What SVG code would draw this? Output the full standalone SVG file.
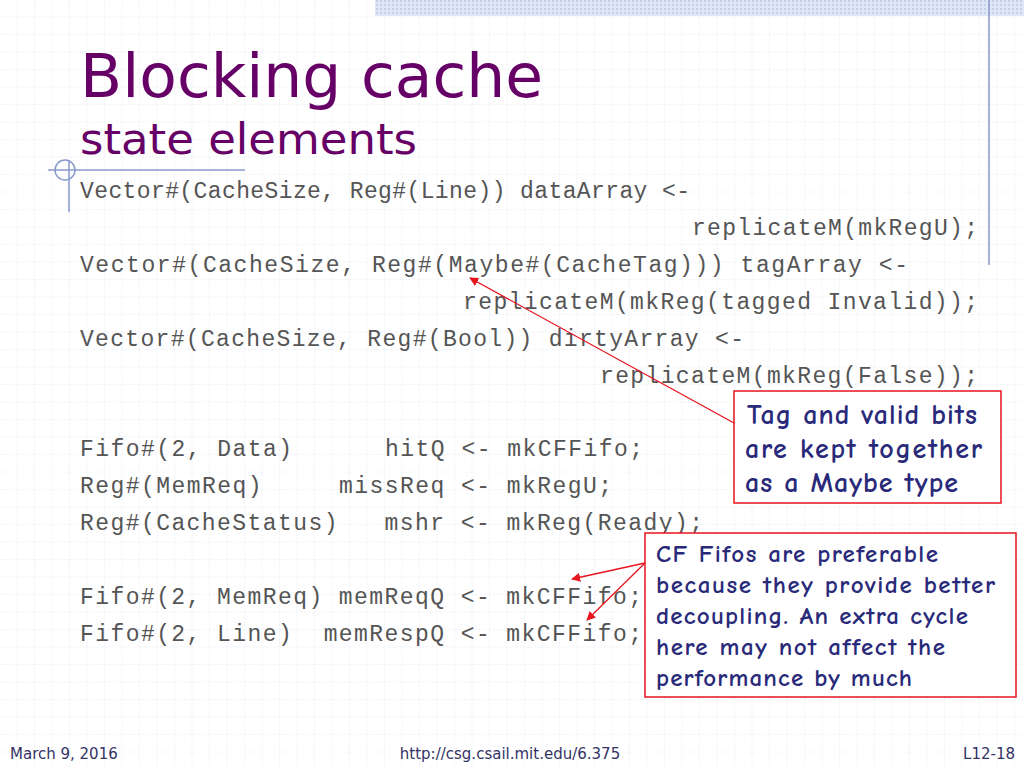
<svg xmlns="http://www.w3.org/2000/svg" width="1024" height="768" viewBox="0 0 1024 768">
<defs>
<pattern id="grid" width="17.5" height="17.5" patternUnits="userSpaceOnUse">
<path d="M17.5 0V17.5M0 17.5H17.5" fill="none" stroke="#dde3ee" stroke-width="1" stroke-dasharray="1.5,1.5"/>
</pattern>
<pattern id="dots" width="4" height="4" patternUnits="userSpaceOnUse">
<rect width="4" height="4" fill="#dfe6f5"/><rect width="2" height="2" fill="#c5d0ea"/>
</pattern>
<marker id="ah" viewBox="0 0 10 10" refX="9" refY="5" markerWidth="7" markerHeight="7" orient="auto"><path d="M0 0L10 5L0 10z" fill="#e8141e"/></marker>
<style>
.code{font-family:"Liberation Mono","Courier New",monospace;font-size:23px;fill:#555}
.note{font-family:"Comic Neue","DejaVu Sans",sans-serif;font-size:28px;font-weight:bold;fill:#2a2a7a}
.note2{font-family:"Comic Neue","DejaVu Sans",sans-serif;font-size:25px;font-weight:bold;fill:#2a2a7a}
.foot{font-family:"DejaVu Sans",sans-serif;font-size:15px;fill:#333366}
.box{fill:#fff;stroke:#e8141e;stroke-width:1.5}
.conn{stroke:#e8141e;stroke-width:1.3;fill:none}
</style>
</defs>
<rect width="1024" height="768" fill="#fff"/>
<rect width="1024" height="768" fill="url(#grid)"/>
<rect x="375" y="0" width="649" height="16" fill="url(#dots)"/>
<line x1="989" y1="0" x2="989" y2="265" stroke="#8899cc" stroke-width="1.5"/>
<line x1="48" y1="170" x2="245" y2="170" stroke="#8899cc" stroke-width="1.5"/>
<line x1="69" y1="160" x2="69" y2="212" stroke="#8899cc" stroke-width="1.5"/>
<circle cx="65" cy="170" r="10" fill="none" stroke="#8899cc" stroke-width="1.5"/>
<text x="80" y="97" font-family="DejaVu Sans,sans-serif" font-size="60" fill="#660066" textLength="463" lengthAdjust="spacingAndGlyphs">Blocking cache</text>
<text x="80" y="154" font-family="DejaVu Sans,sans-serif" font-size="43" fill="#660066" textLength="337" lengthAdjust="spacingAndGlyphs">state elements</text>
<g id="code">
<text class="code" x="80" y="198" textLength="610">Vector#(CacheSize, Reg#(Line)) dataArray &lt;-</text>
<text class="code" x="692" y="235" textLength="286">replicateM(mkRegU);</text>
<text class="code" x="80" y="272" textLength="828">Vector#(CacheSize, Reg#(Maybe#(CacheTag))) tagArray &lt;-</text>
<text class="code" x="463" y="309" textLength="515">replicateM(mkReg(tagged Invalid));</text>
<text class="code" x="80" y="346" textLength="664">Vector#(CacheSize, Reg#(Bool)) dirtyArray &lt;-</text>
<text class="code" x="600" y="383" textLength="378">replicateM(mkReg(False));</text>
<text class="code" x="80" y="456" xml:space="preserve" textLength="563">Fifo#(2, Data)      hitQ &lt;- mkCFFifo;</text>
<text class="code" x="80" y="493" xml:space="preserve" textLength="532">Reg#(MemReq)     missReq &lt;- mkRegU;</text>
<text class="code" x="80" y="530" xml:space="preserve" textLength="623">Reg#(CacheStatus)   mshr &lt;- mkReg(Ready);</text>
<text class="code" x="80" y="604" xml:space="preserve" textLength="562">Fifo#(2, MemReq) memReqQ &lt;- mkCFFifo;</text>
<text class="code" x="80" y="641" xml:space="preserve" textLength="562">Fifo#(2, Line)  memRespQ &lt;- mkCFFifo;</text>
</g>
<g id="connectors">
<line class="conn" x1="734" y1="423" x2="470" y2="278" marker-end="url(#ah)"/>
<line class="conn" x1="645" y1="563" x2="572" y2="579" marker-end="url(#ah)"/>
<line class="conn" x1="645" y1="563" x2="587" y2="620" marker-end="url(#ah)"/>
</g>
<g id="note1">
<rect class="box" x="734" y="391" width="267" height="112"/>
<text class="note" x="747" y="424" textLength="230">Tag and valid bits</text>
<text class="note" x="745" y="458" textLength="237">are kept together</text>
<text class="note" x="745" y="492" textLength="213">as a Maybe type</text>
</g>
<g id="note2">
<rect class="box" x="645" y="533" width="371" height="164"/>
<text class="note2" x="656" y="562" textLength="282">CF Fifos are preferable</text>
<text class="note2" x="656" y="593" textLength="339">because they provide better</text>
<text class="note2" x="656" y="624" textLength="312">decoupling. An extra cycle</text>
<text class="note2" x="656" y="655" textLength="289">here may not affect the</text>
<text class="note2" x="656" y="686" textLength="256">performance by much</text>
</g>
<text class="foot" x="10" y="759">March 9, 2016</text>
<text class="foot" x="510" y="759" text-anchor="middle">http://csg.csail.mit.edu/6.375</text>
<text class="foot" x="1015" y="759" text-anchor="end">L12-18</text>
</svg>
